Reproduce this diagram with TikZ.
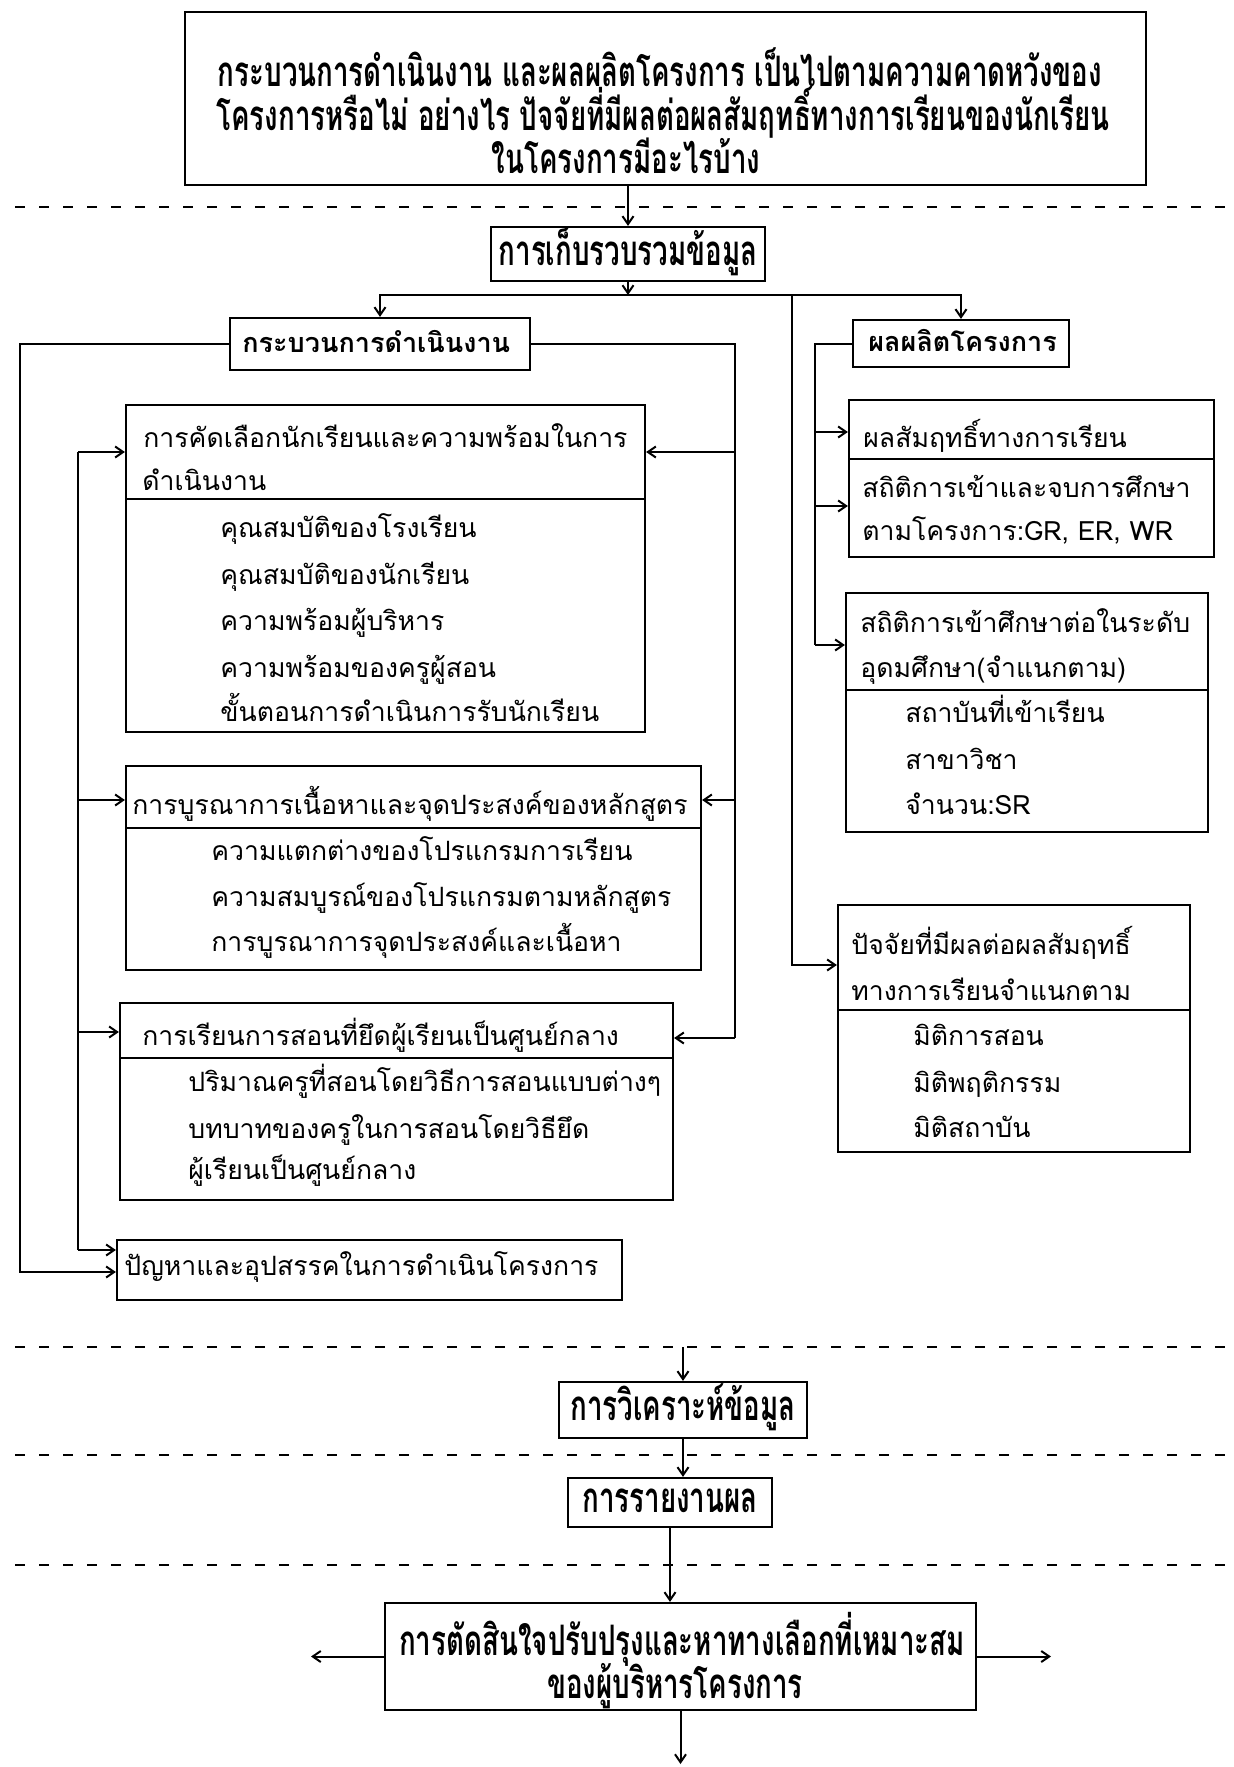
\documentclass[tikz,border=0pt]{standalone}
\usepackage{fontspec}
\newfontfamily\thaibody[Script=Thai]{Loma}
\newfontfamily\thaihead[Script=Thai,FakeStretch=0.66]{Loma}
\usetikzlibrary{arrows.meta,fit}
\begin{document}
\begin{tikzpicture}[x=0.5pt,y=-0.5pt,
  box/.style={draw, line width=1.1pt, inner sep=0pt},
  conn/.style={line width=1pt},
  arr/.style={line width=1pt, -{Straight Barb[length=4pt,width=5.5pt]}},
  sep/.style={line width=1pt, dash pattern=on 5pt off 7pt},
  bt/.style={anchor=west, inner sep=0pt, text height=7pt, text depth=0pt,
    font=\thaibody\fontsize{13.3}{16}\selectfont},
  bth/.style={bt, font=\thaibody\bfseries\fontsize{13.5}{16}\selectfont},
  ht/.style={anchor=center, inner sep=0pt, text height=10pt, text depth=0pt,
    font=\thaihead\bfseries\fontsize{21}{24}\selectfont}]
\useasboundingbox (0,0) rectangle (1234,1767);

% y levels and x columns
\coordinate (xOL) at (20,0);
\coordinate (xIL) at (78,0);
\coordinate (xR) at (735,0);
\coordinate (xP) at (815,0);
\coordinate (y432) at (0,432);
\coordinate (y452) at (0,452);
\coordinate (y506) at (0,506);
\coordinate (y645) at (0,645);
\coordinate (y800) at (0,800);
\coordinate (y965) at (0,965);
\coordinate (y1032) at (0,1032);
\coordinate (y1038) at (0,1038);
\coordinate (y1250) at (0,1250);
\coordinate (y1272) at (0,1272);

% dashed separators
\draw[sep] (15,207) -- (1234,207);
\draw[sep] (15,1347) -- (1234,1347);
\draw[sep] (15,1455) -- (1234,1455);
\draw[sep] (15,1565) -- (1234,1565);

% boxes
\node[box, fit={(185,12) (1146,185)}] (top) {};
\node[box, fit={(491,227) (765,281)}] (gather) {};
\node[box, fit={(230,318) (530,370)}] (proc) {};
\node[box, fit={(853,320) (1069,367)}] (outp) {};
\node[box, fit={(126,405) (645,732)}] (b1) {};
\node[box, fit={(126,766) (701,970)}] (b2) {};
\node[box, fit={(120,1003) (673,1200)}] (b3) {};
\node[box, fit={(117,1240) (622,1300)}] (b4) {};
\node[box, fit={(849,400) (1214,557)}] (b5) {};
\node[box, fit={(846,593) (1208,832)}] (b6) {};
\node[box, fit={(838,905) (1190,1152)}] (fac) {};
\node[box, fit={(559,1382) (807,1438)}] (anal) {};
\node[box, fit={(568,1478) (772,1527)}] (rep) {};
\node[box, fit={(385,1603) (976,1710)}] (dec) {};

% dividers
\draw[line width=1.1pt] (126,499) -- (645,499);
\draw[line width=1.1pt] (126,828) -- (701,828);
\draw[line width=1.1pt] (120,1058) -- (673,1058);
\draw[line width=1.1pt] (849,459) -- (1214,459);
\draw[line width=1.1pt] (846,690) -- (1208,690);
\draw[line width=1.1pt] (838,1010) -- (1190,1010);

% texts
\node[ht] (tt1) at (660,76) {กระบวนการดำเนินงาน และผลผลิตโครงการ เป็นไปตามความคาดหวังของ};
\node[ht] (tt2) at (663,120) {โครงการหรือไม่ อย่างไร ปัจจัยที่มีผลต่อผลสัมฤทธิ์ทางการเรียนของนักเรียน};
\node[ht] (tt3) at (626,163) {ในโครงการมีอะไรบ้าง};
\node[ht] (tg) at (628,255) {การเก็บรวบรวมข้อมูล};
\node[bth] (tp) at (242,345) {กระบวนการดำเนินงาน};
\node[bth] (to) at (868,344) {ผลผลิตโครงการ};

\node[bt] (t11) at (143,440) {การคัดเลือกนักเรียนและความพร้อมในการ};
\node[bt] (t12) at (142,483) {ดำเนินงาน};
\node[bt] (t13) at (220,530) {คุณสมบัติของโรงเรียน};
\node[bt] (t14) at (220,577) {คุณสมบัติของนักเรียน};
\node[bt] (t15) at (220,623) {ความพร้อมผู้บริหาร};
\node[bt] (t16) at (220,670) {ความพร้อมของครูผู้สอน};
\node[bt] (t17) at (220,714) {ขั้นตอนการดำเนินการรับนักเรียน};

\node[bt] (t21) at (132,807) {การบูรณาการเนื้อหาและจุดประสงค์ของหลักสูตร};
\node[bt] (t22) at (211,853) {ความแตกต่างของโปรแกรมการเรียน};
\node[bt] (t23) at (211,899) {ความสมบูรณ์ของโปรแกรมตามหลักสูตร};
\node[bt] (t24) at (211,944) {การบูรณาการจุดประสงค์และเนื้อหา};

\node[bt] (t31) at (142,1038) {การเรียนการสอนที่ยึดผู้เรียนเป็นศูนย์กลาง};
\node[bt] (t32) at (188,1084) {ปริมาณครูที่สอนโดยวิธีการสอนแบบต่างๆ};
\node[bt] (t33) at (188,1131) {บทบาทของครูในการสอนโดยวิธียึด};
\node[bt] (t34) at (188,1172) {ผู้เรียนเป็นศูนย์กลาง};

\node[bt] (t41) at (124,1268) {ปัญหาและอุปสรรคในการดำเนินโครงการ};

\node[bt] (t51) at (863,440) {ผลสัมฤทธิ์ทางการเรียน};
\node[bt] (t52) at (862,490) {สถิติการเข้าและจบการศึกษา};
\node[bt] (t53) at (862,533) {ตามโครงการ:GR, ER, WR};

\node[bt] (t61) at (860,625) {สถิติการเข้าศึกษาต่อในระดับ};
\node[bt] (t62) at (860,670) {อุดมศึกษา(จำแนกตาม)};
\node[bt] (t63) at (905,715) {สถาบันที่เข้าเรียน};
\node[bt] (t64) at (905,762) {สาขาวิชา};
\node[bt] (t65) at (905,807) {จำนวน:SR};

\node[bt] (t71) at (851,947) {ปัจจัยที่มีผลต่อผลสัมฤทธิ์};
\node[bt] (t72) at (851,993) {ทางการเรียนจำแนกตาม};
\node[bt] (t73) at (913,1038) {มิติการสอน};
\node[bt] (t74) at (913,1085) {มิติพฤติกรรม};
\node[bt] (t75) at (913,1130) {มิติสถาบัน};

\node[ht] (ta) at (683,1410) {การวิเคราะห์ข้อมูล};
\node[ht] (tr) at (670,1502) {การรายงานผล};
\node[ht] (td1) at (682,1645) {การตัดสินใจปรับปรุงและหาทางเลือกที่เหมาะสม};
\node[ht] (td2) at (675,1688) {ของผู้บริหารโครงการ};

% connectors top part
\draw[arr] (gather.north |- top.south) -- (gather.north);
\coordinate (br) at (628,295);
\coordinate (vr) at (792,295);
\draw[arr] (gather.south) -- (br);
\draw[arr] (br) -| (proc.north);
\draw[arr] (br) -| (outp.north);
\draw[arr] (vr) |- (fac.west |- y965);

% left outer loop
\draw[arr] (proc.west) -- (proc.west -| xOL) -- (xOL |- y1272) -- (b4.west |- y1272);
% left inner bracket
\draw[conn] (xIL |- y452) -- (xIL |- y1250);
\draw[arr] (xIL |- y452) -- (b1.west |- y452);
\draw[arr] (xIL |- y800) -- (b2.west |- y800);
\draw[arr] (xIL |- y1032) -- (b3.west |- y1032);
\draw[arr] (xIL |- y1250) -- (b4.west |- y1250);
% right of proc
\draw[conn] (proc.east) -- (proc.east -| xR) -- (xR |- y1038);
\draw[arr] (xR |- y452) -- (b1.east |- y452);
\draw[arr] (xR |- y800) -- (b2.east |- y800);
\draw[arr] (xR |- y1038) -- (b3.east |- y1038);
% output branch
\draw[conn] (outp.west) -- (outp.west -| xP) -- (xP |- y645);
\draw[arr] (xP |- y432) -- (b5.west |- y432);
\draw[arr] (xP |- y506) -- (b5.west |- y506);
\draw[arr] (xP |- y645) -- (b6.west |- y645);

% bottom part
\coordinate (d2) at (683,1347);
\draw[arr] (d2) -- (anal.north);
\draw[arr] (anal.south) -- (anal.south |- rep.north);
\draw[arr] (rep.south) -- (rep.south |- dec.north);
\coordinate (dl) at (311,1656.5);
\coordinate (dr) at (1051,1656.5);
\coordinate (db) at (680.5,1764);
\draw[arr] (dec.west) -- (dl);
\draw[arr] (dec.east) -- (dr);
\draw[arr] (dec.south) -- (db);
\end{tikzpicture}
\end{document}
